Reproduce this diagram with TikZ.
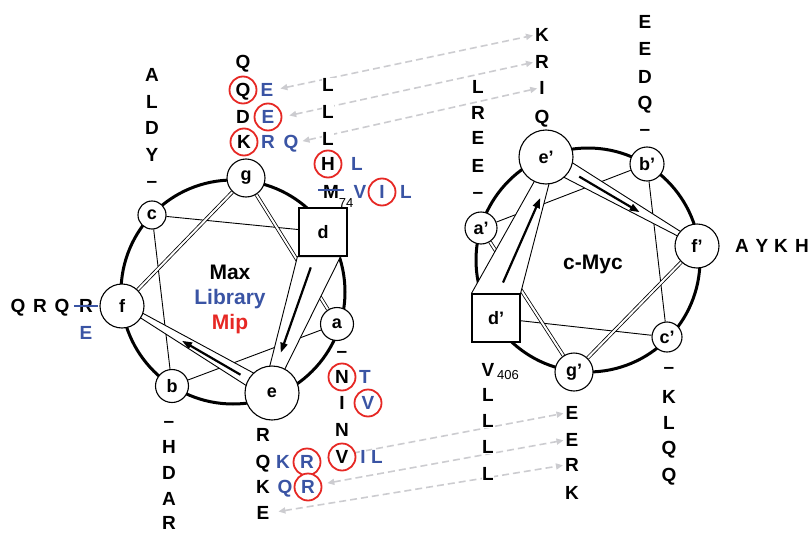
\documentclass[tikz,border=0pt]{standalone}
\usepackage{fontspec}
\setmainfont{Liberation Sans}
\usetikzlibrary{calc,arrows.meta,backgrounds}
\definecolor{libblue}{RGB}{58,84,164}
\definecolor{mipred}{RGB}{230,40,36}
\definecolor{pairgray}{RGB}{204,204,208}

\tikzset{
  res/.style={font=\bfseries\fontsize{19}{19}\selectfont, inner sep=0pt, text height=13.6pt, text depth=0pt, fill=white},
  lib/.style={res, text=libblue},
  ring/.style={circle, draw=mipred, line width=1.8pt, minimum size=27pt},
  subnum/.style={font=\fontsize{13}{13}\selectfont, inner sep=0pt, text height=9.3pt, text depth=0pt},
  title/.style={font=\bfseries\fontsize{21}{21}\selectfont, inner sep=0pt, text height=15pt, text depth=0pt},
  wheel/.style={circle, draw, line width=3pt, inner sep=0pt},
  site/.style={circle, draw, fill=white, line width=1.1pt, inner sep=0pt, font=\bfseries\fontsize{18}{18}\selectfont},
  core/.style={rectangle, draw, fill=white, line width=1.1pt, inner sep=0pt, minimum size=48pt, font=\bfseries\fontsize{18}{18}\selectfont},
  link/.style={line width=0.9pt},
  dbl/.style={double, double distance=2pt, line width=0.8pt},
  band/.style={draw, fill=white, line width=0.9pt, line join=round},
  dir/.style={line width=2.2pt, -{Triangle[length=10pt,width=7pt]}},
  pair/.style={draw=pairgray, line width=1.6pt, dash pattern=on 7pt off 4pt, {Triangle[length=7pt,width=6pt]}-{Triangle[length=7pt,width=6pt]}},
  strike/.style={draw=libblue, line width=1.8pt},
}

\begin{document}
\begin{tikzpicture}[x=1pt,y=-1pt]
\useasboundingbox (0,0) rectangle (811,535);

% Max heptad positions
\node[site, minimum size=38pt] (g) at (246,178) {g};
\node[site, minimum size=28pt] (c) at (152,215) {c};
\node[core] (d) at (323,232) {d};
\node[site, minimum size=33pt] (a) at (337,324) {a};
\node[site, minimum size=54pt] (e) at (272,393) {e};
\node[site, minimum size=44pt] (f) at (122,306) {f};
\node[site, minimum size=33pt] (b) at (172,386) {b};

% c-Myc heptad positions
\node[site, minimum size=54pt] (ep) at (546,157) {e’};
\node[site, minimum size=34pt] (bp) at (647,164) {b’};
\node[site, minimum size=44pt] (fp) at (697,246) {f’};
\node[site, minimum size=30pt] (cp) at (667,337) {c’};
\node[site, minimum size=38pt] (gp) at (574,372) {g’};
\node[core] (dp) at (496,318) {d’};
\node[site, minimum size=32pt] (ap) at (481,228) {a’};

% wheel titles
\node[title] (maxname) at (230,272) {Max};
\node[title, text=libblue] (libname) at (230,297) {Library};
\node[title, text=mipred] (mipname) at (230,322) {Mip};
\node[title] (mycname) at (593,262) {c-Myc};

% Max residues at g
\node[res] (gQa) at (243,62) {Q};
\node[res,ring] (gQb) at (243,90) {Q};
\node[res] (gD) at (243,117) {D};
\node[res,ring] (gK) at (244,142) {K};
\node[lib] (gEa) at (267,90) {E};
\node[lib,ring] (gEb) at (268,117) {E};
\node[lib] (gR) at (268,142) {R};
\node[lib] (gQc) at (291,142) {Q};

% Max residues at d
\node[res] (dLa) at (328,85) {L};
\node[res] (dLb) at (328,112) {L};
\node[res] (dLc) at (328,139) {L};
\node[res,ring] (dH) at (328,164) {H};
\node[lib] (dL) at (357,164) {L};
\node[res] (dM) at (331,192) {M};
\node[subnum] (dM74) at (346,203) {74};
\node[lib] (dV) at (360,192) {V};
\node[lib,ring] (dI) at (382,192) {I};
\node[lib] (dLd) at (406,192) {L};

% Max residues at c
\node[res] (cA) at (152,75) {A};
\node[res] (cL) at (152,102) {L};
\node[res] (cD) at (152,128) {D};
\node[res] (cY) at (152,155) {Y};
\node[res] (cdash) at (152,181) {–};

% Max residues at f
\node[res] (fQa) at (18,306) {Q};
\node[res] (fRa) at (40,306) {R};
\node[res] (fQb) at (62,306) {Q};
\node[res] (fRb) at (86,306) {R};
\node[lib] (fE) at (86,333) {E};

% Max residues at b
\node[res] (bdash) at (169,421) {–};
\node[res] (bH) at (169,447) {H};
\node[res] (bD) at (169,473) {D};
\node[res] (bA) at (169,499) {A};
\node[res] (bR) at (169,523) {R};

% Max residues at a
\node[res] (adash) at (342,351) {–};
\node[res,ring] (aN) at (342,377) {N};
\node[lib] (aT) at (365,377) {T};
\node[res] (aI) at (342,403) {I};
\node[lib,ring] (aV) at (368,403) {V};
\node[res] (aNb) at (342,430) {N};
\node[res,ring] (aVb) at (342,457) {V};
\node[lib] (aIb) at (363,457) {I};
\node[lib] (aL) at (377,457) {L};

% Max residues at e
\node[res] (eR) at (263,435) {R};
\node[res] (eQ) at (263,462) {Q};
\node[lib] (eK) at (283,462) {K};
\node[lib,ring] (eRb) at (307,462) {R};
\node[res] (eKb) at (263,487) {K};
\node[lib] (eQb) at (285,487) {Q};
\node[lib,ring] (eRc) at (308,487) {R};
\node[res] (eE) at (263,513) {E};

% c-Myc residues at e'
\node[res] (mK) at (542,35) {K};
\node[res] (mR) at (542,62) {R};
\node[res] (mI) at (542,88) {I};
\node[res] (mQ) at (542,117) {Q};

% c-Myc residues at a'
\node[res] (paL) at (478,87) {L};
\node[res] (paR) at (478,113) {R};
\node[res] (paEa) at (478,138) {E};
\node[res] (paEb) at (478,166) {E};
\node[res] (padash) at (478,192) {–};

% c-Myc residues at b'
\node[res] (pbEa) at (645,22) {E};
\node[res] (pbEb) at (645,49) {E};
\node[res] (pbD) at (645,77) {D};
\node[res] (pbQ) at (645,103) {Q};
\node[res] (pbdash) at (645,129) {–};

% c-Myc residues at f'
\node[res] (pfA) at (742,246) {A};
\node[res] (pfY) at (762,246) {Y};
\node[res] (pfK) at (781,246) {K};
\node[res] (pfH) at (802,246) {H};

% c-Myc residues at c'
\node[res] (pcdash) at (669,367) {–};
\node[res] (pcK) at (669,397) {K};
\node[res] (pcL) at (669,423) {L};
\node[res] (pcQa) at (669,448) {Q};
\node[res] (pcQb) at (669,475) {Q};

% c-Myc residues at d'
\node[res] (pdV) at (488,370) {V};
\node[subnum] (pd406) at (508,375) {406};
\node[res] (pdLa) at (488,395) {L};
\node[res] (pdLb) at (488,421) {L};
\node[res] (pdLc) at (488,447) {L};
\node[res] (pdLd) at (488,474) {L};

% c-Myc residues at g'
\node[res] (pgEa) at (572,413) {E};
\node[res] (pgEb) at (572,440) {E};
\node[res] (pgR) at (572,465) {R};
\node[res] (pgK) at (572,493) {K};

% substituted residues
\draw[strike] ([xshift=-4.5pt,yshift=2pt]dM.west) -- ([xshift=4.5pt,yshift=2pt]dM.east);
\draw[strike] ([xshift=-5pt]fRb.west) -- ([xshift=5pt]fRb.east);

\begin{pgfonlayer}{background}
  \node[wheel, minimum size=224pt] (maxwheel) at (233,292) {};
  \node[wheel, minimum size=224pt] (mycwheel) at (588,260) {};

  % Max heptad connections
  \draw[link] (c) -- (d);
  \draw[link] (c) -- (b);
  \draw[link] (b) -- (a);
  \draw[dbl] (f) -- (g);
  \draw[dbl] (g) -- (a);
  \draw[band] ($(d.south west)+(-1,0)$) -- ($(d.south east)+(-7,0)$) -- ($(e)+(1,0)$) -- ($(e)+(-9,0)$) -- cycle;
  \draw[band] ($(f)+(0,-4)$) -- ($(e)+(0,-10)$) -- ($(e)+(0,9)$) -- (f.center) -- cycle;
  \draw[dir] ($(d)!0.22!(e)+(-1,0)$) -- ($(d)!0.75!(e)+(-4,0)$);
  \draw[dir] ($(e)!0.21!(f)$) -- ($(e)!0.6!(f)$);

  % c-Myc heptad connections
  \draw[link] (ap) -- (bp);
  \draw[link] (bp) -- (cp);
  \draw[link] (cp) -- (dp);
  \draw[dbl] (fp) -- (gp);
  \draw[dbl] (gp) -- (ap);
  \draw[band] (dp.north west) -- (dp.north east) -- ($(ep)+(10,0)$) -- ($(ep)+(2,0)$) -- cycle;
  \draw[band] ($(ep)+(0,-11)$) -- ($(fp)+(0,-4)$) -- (fp.center) -- ($(ep)+(0,11)$) -- cycle;
  \draw[dir] ($(dp)!0.22!(ep)+(-4,0)$) -- ($(dp)!0.745!(ep)+(7,0)$);
  \draw[dir] ($(ep)!0.22!(fp)$) -- ($(ep)!0.62!(fp)$);

  % interhelical pairs
  \draw[pair, shorten <=7pt, shorten >=2pt] (gEa.east) -- (mK.west);
  \draw[pair, shorten <=7pt, shorten >=2pt] (gEb.east) -- (mR.west);
  \draw[pair, shorten <=4pt, shorten >=2pt] (gQc.east) -- (mI.west);
  \draw[pair, shorten <=5pt, shorten >=2pt] ([yshift=3pt]eRb.east) -- (pgEa.west);
  \draw[pair, shorten <=5pt, shorten >=2pt] ([yshift=3pt]eRc.east) -- (pgEb.west);
  \draw[pair, shorten <=9pt, shorten >=2pt] (eE.east) -- (pgR.west);
\end{pgfonlayer}
\end{tikzpicture}
\end{document}
